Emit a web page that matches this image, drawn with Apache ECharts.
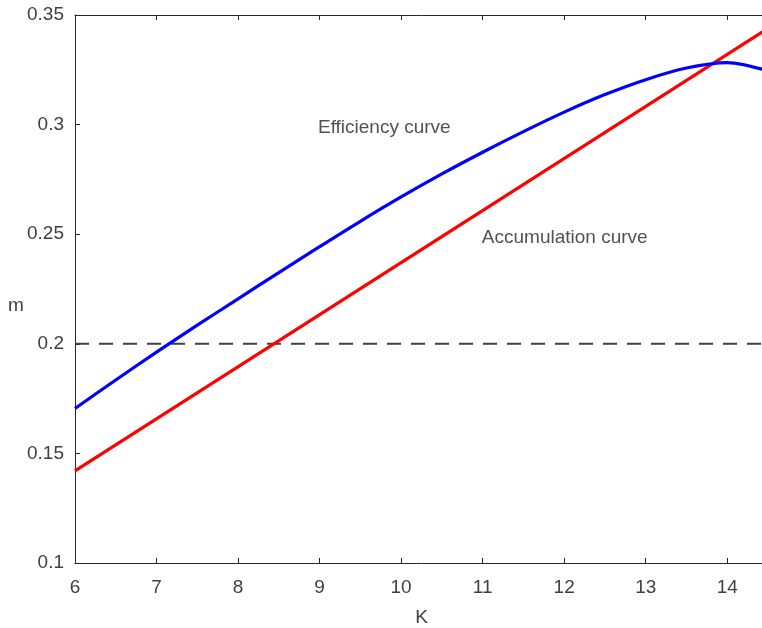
<!DOCTYPE html>
<html lang="en">
  <head>
    <meta charset="UTF-8" />
    <title>Efficiency and accumulation curves</title>
    <script src="https://cdn.jsdelivr.net/npm/echarts@6/dist/echarts.min.js"></script>
    <style>
      html, body { margin: 0; padding: 0; background: #fff; overflow: hidden; }
    </style>
  </head>
  <body>
    <!-- plot runs a little past the right edge of the window, as in the original -->
    <div id="main" style="width: 768px; height: 628px"></div>

    <script>
      const myEchart = echarts.init(document.getElementById("main"));

      // efficiency curve (blue)
      var effK = [6, 6.5, 7, 7.5, 8, 8.5, 9, 9.5, 10, 10.5, 11, 11.5, 12, 12.5, 13, 13.5, 14, 14.5];
      var effM = [0.1705, 0.1835, 0.1962, 0.2085, 0.2205, 0.2325, 0.2443, 0.2559, 0.2670, 0.2775, 0.2874, 0.2968, 0.3057, 0.3137, 0.3205, 0.3258, 0.3283, 0.3245];

      // accumulation curve (red), a straight line
      var accK = [6, 14.5];
      var accM = [0.142, 0.3439];

      // horizontal reference level
      var refLevel = 0.2;

      // text labels: [K, m, text]
      var notes = [
        [8.98, 0.2987, "Efficiency curve"],
        [10.99, 0.2485, "Accumulation curve"],
      ];

      var axisColor = "#262626";
      var labelColor = "#404040";
      var fontFam = "'Liberation Sans', Arial, sans-serif";

      let options = {
        animation: false,
        grid: { left: 75, top: 15, bottom: 65, right: 0, outerBoundsMode: "none" },
        graphic: [
          {
            type: "text",
            left: 8,
            top: 296,
            style: { text: "m", fill: labelColor, fontSize: 19, fontFamily: fontFam },
          },
        ],
        xAxis: [
          {
            type: "value",
            min: 6,
            max: 14.5,
            interval: 1,
            name: "K",
            nameLocation: "middle",
            nameGap: 45,
            nameTextStyle: { color: labelColor, fontSize: 19, fontFamily: fontFam },
            axisLine: { lineStyle: { color: axisColor } },
            axisTick: { inside: true, length: 5, lineStyle: { color: axisColor } },
            axisLabel: { color: labelColor, fontSize: 19, fontFamily: fontFam, margin: 15, showMaxLabel: false },
            splitLine: { show: false },
          },
          {
            type: "value",
            position: "top",
            min: 6,
            max: 14.5,
            interval: 1,
            axisLine: { show: true, lineStyle: { color: axisColor } },
            axisTick: { show: true, inside: true, length: 5, lineStyle: { color: axisColor } },
            axisLabel: { show: false },
            splitLine: { show: false },
          },
        ],
        yAxis: [
          {
            type: "value",
            min: 0.1,
            max: 0.35,
            interval: 0.05,
            axisLine: { show: true, lineStyle: { color: axisColor } },
            axisTick: { show: true, inside: true, length: 5, lineStyle: { color: axisColor } },
            axisLabel: { color: labelColor, fontSize: 19, fontFamily: fontFam, margin: 11, padding: [6, 0, 0, 0] },
            splitLine: { show: false },
          },
          {
            type: "value",
            position: "right",
            min: 0.1,
            max: 0.35,
            interval: 0.05,
            axisLine: { show: true, lineStyle: { color: axisColor } },
            axisTick: { show: true, inside: true, length: 5, lineStyle: { color: axisColor } },
            axisLabel: { show: false },
            splitLine: { show: false },
          },
        ],
        series: [
          {
            type: "line",
            name: "level",
            data: [[6, refLevel], [14.5, refLevel]],
            symbol: "none",
            lineStyle: { color: "#404040", width: 2, type: [14, 10] },
            z: 1,
          },
          {
            type: "line",
            name: "Accumulation curve",
            data: accK.map((k, i) => [k, accM[i]]),
            symbol: "none",
            lineStyle: { color: "#ff0000", width: 3.2 },
            z: 2,
          },
          {
            type: "line",
            name: "Efficiency curve",
            data: effK.map((k, i) => [k, effM[i]]),
            symbol: "none",
            smooth: 0.3,
            lineStyle: { color: "#0000ff", width: 3.2 },
            z: 3,
          },
          {
            type: "scatter",
            name: "notes",
            data: notes.map((n) => ({ value: [n[0], n[1]], label: { formatter: n[2] } })),
            symbolSize: 0,
            label: {
              show: true,
              position: "right",
              distance: 0,
              color: "#262626",
              fontSize: 19,
              fontFamily: fontFam,
            },
            silent: true,
          },
        ],
      };

      myEchart.setOption(options);
    </script>
  </body>
</html>
